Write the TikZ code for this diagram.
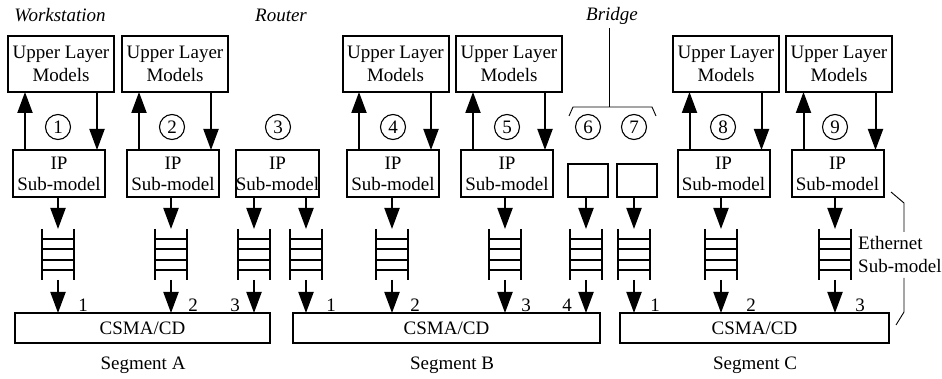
\documentclass[tikz,border=0pt]{standalone}
\usepackage{fontspec}
\setmainfont{Liberation Serif}
\usetikzlibrary{arrows.meta,calc}
\begin{document}
\begin{tikzpicture}[x=1pt,y=-1pt,
  lw/.style={line width=2pt},
  txt/.style={font=\fontsize{19}{22}\selectfont},
  box/.style={draw,lw,inner sep=0pt,outer sep=0pt,align=center,txt},
  ulm/.style={box,minimum width=106pt,minimum height=56pt,font=\fontsize{19}{23}\selectfont},
  ipbox/.style={box,minimum width=92pt,minimum height=47.5pt,font=\fontsize{19}{21}\selectfont},
  brbox/.style={box,minimum width=40pt,minimum height=33pt},
  csma/.style={box,minimum height=30pt},
  qnode/.style={inner sep=0pt,outer sep=0pt,minimum width=32pt,minimum height=51pt},
  num/.style={draw,circle,line width=1.1pt,inner sep=0pt,minimum size=25pt,txt},
  arr/.style={lw,-{Triangle[length=21pt,width=15pt]}},
  thinln/.style={line width=0.9pt},
  lbl/.style={txt,inner sep=0pt},
  itlbl/.style={lbl,font=\fontsize{19}{22}\selectfont\itshape},
]
\useasboundingbox (0,0) rectangle (942,379);

% Upper layer models
\node[ulm] (u1) at (61,64) {Upper Layer\\Models};
\node[ulm] (u2) at (175,64) {Upper Layer\\Models};
\node[ulm] (u4) at (395.5,64) {Upper Layer\\Models};
\node[ulm] (u5) at (509,64) {Upper Layer\\Models};
\node[ulm] (u8) at (726,64) {Upper Layer\\Models};
\node[ulm] (u9) at (839,64) {Upper Layer\\Models};

% IP sub-models
\node[ipbox] (ip1) at (59,173.75) {IP\\Sub-model};
\node[ipbox] (ip2) at (173,173.75) {IP\\Sub-model};
\node[ipbox,minimum width=83pt] (ip3) at (277.5,173.75) {IP\\Sub-model};
\node[ipbox] (ip4) at (393,173.75) {IP\\Sub-model};
\node[ipbox] (ip5) at (507,173.75) {IP\\Sub-model};
\node[ipbox] (ip8) at (723.5,173.75) {IP\\Sub-model};
\node[ipbox] (ip9) at (837.5,173.75) {IP\\Sub-model};

% bridge boxes
\node[brbox] (br6) at (587.5,180.5) {};
\node[brbox] (br7) at (637,180.5) {};

% up / down arrows between upper layer and IP
\foreach \i/\u in {ip1/u1,ip2/u2,ip4/u4,ip5/u5,ip8/u8,ip9/u9}{
  \draw[arr] ([xshift=12pt]\i.north west) -- ([xshift=12pt]\i.north west |- \u.south);
  \draw[arr] ([xshift=84pt]\i.north west |- \u.south) -- ([xshift=84pt]\i.north west);
}

% circled numbers
\node[num] (c1) at (58,127) {1};
\node[num] (c2) at (172,127) {2};
\node[num] (c3) at (278,127) {3};
\node[num] (c4) at (393,127) {4};
\node[num] (c5) at (507,127) {5};
\node[num] (c6) at (588,127) {6};
\node[num] (c7) at (634,127) {7};
\node[num] (c8) at (723,127) {8};
\node[num] (c9) at (835,127) {9};

% queues
\node[qnode] (q1) at (58,254.5) {};
\node[qnode] (q2) at (171,254.5) {};
\node[qnode] (q3) at (254,254.5) {};
\node[qnode] (q4) at (306,254.5) {};
\node[qnode] (q5) at (392,254.5) {};
\node[qnode] (q6) at (505,254.5) {};
\node[qnode] (q7) at (586,254.5) {};
\node[qnode] (q8) at (634,254.5) {};
\node[qnode] (q9) at (721,254.5) {};
\node[qnode] (q10) at (835,254.5) {};
\foreach \q in {q1,q2,q3,q4,q5,q6,q7,q8,q9,q10}{
  \draw[lw] (\q.north west) -- (\q.south west) (\q.north east) -- (\q.south east);
  \foreach \f in {0.2,0.4,0.6,0.8}{
    \draw[lw] ($(\q.north west)!\f!(\q.south west)$) -- ($(\q.north east)!\f!(\q.south east)$);
  }
}

% CSMA/CD boxes
\node[csma,minimum width=255pt] (csA) at (142.5,328) {CSMA/CD};
\node[csma,minimum width=307pt] (csB) at (446.5,328) {CSMA/CD};
\node[csma,minimum width=269pt] (csC) at (754.5,328) {CSMA/CD};

% arrows IP -> queue
\foreach \i/\q in {ip1/q1,ip2/q2,ip3/q3,ip3/q4,ip4/q5,ip5/q6,br6/q7,br7/q8,ip8/q9,ip9/q10}{
  \draw[arr] (\q.north |- \i.south) -- (\q.north);
}
% arrows queue -> CSMA
\foreach \q/\c in {q1/csA,q2/csA,q3/csA,q4/csB,q5/csB,q6/csB,q7/csB,q8/csC,q9/csC,q10/csC}{
  \draw[arr] (\q.south) -- (\q.south |- \c.north);
}

% port numbers
\node[lbl] (pa1) at (83,305) {1};
\node[lbl] (pa2) at (193,305) {2};
\node[lbl] (pa3) at (235,305) {3};
\node[lbl] (pb1) at (331,305) {1};
\node[lbl] (pb2) at (415,305) {2};
\node[lbl] (pb3) at (526,305) {3};
\node[lbl] (pb4) at (567,305) {4};
\node[lbl] (pc1) at (655,305) {1};
\node[lbl] (pc2) at (751,305) {2};
\node[lbl] (pc3) at (860,305) {3};

% segment labels
\node[lbl] (sA) at (143,365) {Segment A};
\node[lbl] (sB) at (452,365) {Segment B};
\node[lbl] (sC) at (755,365) {Segment C};

% italic device labels
\node[itlbl] (ws) at (60,15) {Workstation};
\node[itlbl] (rt) at (281,15) {Router};
\node[itlbl] (bg) at (612,16) {Bridge};

% bridge bracket
\coordinate (bbl) at (569,116);
\coordinate (bbr) at (656,116);
\coordinate (bml) at (573,107);
\coordinate (bmr) at (652,107);
\coordinate (bmid) at (609,107);
\coordinate (btop) at (609,28);
\draw[thinln] (bbl) -- (bml) -- (bmr) -- (bbr);
\draw[thinln] (bmid) -- (btop);

% Ethernet sub-model brace
\node[lbl,anchor=west,align=left,font=\fontsize{19}{23}\selectfont] (eth) at (858,254.5) {Ethernet\\Sub-model};
\coordinate (e1) at (891,192);
\coordinate (e2) at (904,203);
\coordinate (e3) at (904,232);
\coordinate (e4) at (904,278);
\coordinate (e5) at (904,312);
\coordinate (e6) at (896,325);
\draw[thinln] (e1) -- (e2) -- (e3);
\draw[thinln] (e4) -- (e5) -- (e6);
\end{tikzpicture}
\end{document}
